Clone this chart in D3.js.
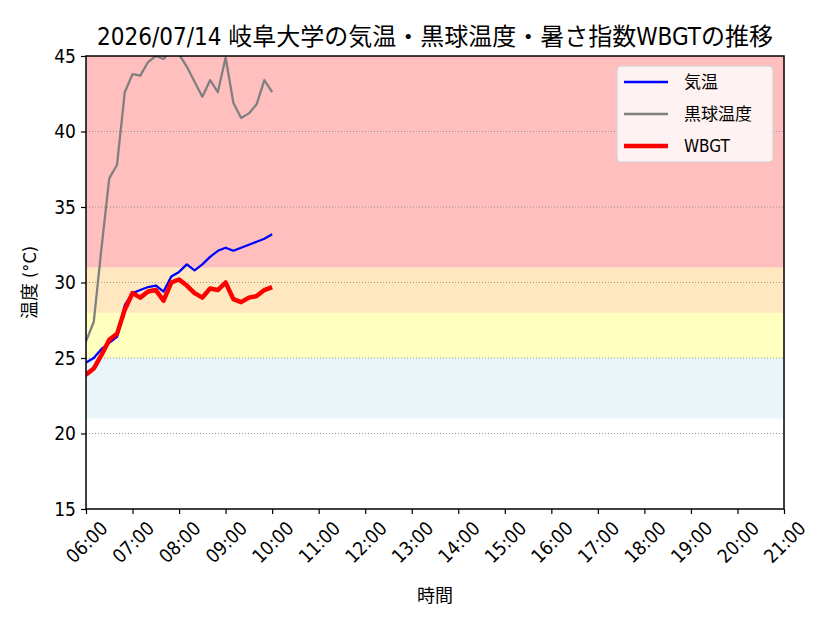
<!DOCTYPE html>
<html>
<head>
<meta charset="utf-8">
<title>WBGT chart</title>
<script src="https://d3js.org/d3.v7.min.js"></script>
<style>
  body { margin: 0; background: #fff; }
  text { font-family: "DejaVu Sans Condensed", "DejaVu Sans", "Noto Sans CJK JP", sans-serif; font-stretch: condensed; fill: #000; }
</style>
</head>
<body>
<div id="chart"></div>
<script>

  // 10分ごとの観測値 06:00 - 10:00
  const times = ["06:00", "06:10", "06:20", "06:30", "06:40", "06:50",
    "07:00", "07:10", "07:20", "07:30", "07:40", "07:50",
    "08:00", "08:10", "08:20", "08:30", "08:40", "08:50",
    "09:00", "09:10", "09:20", "09:30", "09:40", "09:50", "10:00"]
  const airTemp = [24.7, 25.0, 25.6, 26.0, 26.4, 28.5, 29.3, 29.5, 29.7, 29.8, 29.4, 30.4,
    30.7, 31.2, 30.8, 31.2, 31.7, 32.1, 32.3, 32.1, 32.3, 32.5, 32.7, 32.9, 33.2]
  const globeTemp = [26.1, 27.4, 32.3, 36.9, 37.8, 42.6, 43.8, 43.7, 44.6, 45.0, 44.8, 45.4,
    45.1, 44.3, 43.3, 42.3, 43.4, 42.6, 44.9, 41.9, 40.9, 41.2, 41.8, 43.4, 42.6]
  const wbgt = [23.9, 24.3, 25.2, 26.2, 26.6, 28.2, 29.3, 29.0, 29.4, 29.5, 28.8, 30.0,
    30.2, 29.8, 29.3, 29.0, 29.6, 29.5, 30.0, 28.9, 28.7, 29.0, 29.1, 29.5, 29.7]

  const xTickLabels = ["06:00", "07:00", "08:00", "09:00", "10:00", "11:00", "12:00", "13:00",
    "14:00", "15:00", "16:00", "17:00", "18:00", "19:00", "20:00", "21:00"]
  const yTicks = [15, 20, 25, 30, 35, 40, 45]

  // 危険度の帯 [下限, 上限, 色]
  const bandLow = [21, 25, 28, 31]
  const bandHigh = [25, 28, 31, 45]
  const bandColor = ["lightblue", "yellow", "orange", "red"]

  const seriesNames = ["気温", "黒球温度", "WBGT"]
  const seriesColor = ["#0000ff", "#808080", "#ff0000"]
  const seriesWidth = [2.3, 2.3, 4.5]

  const width = 832
  const height = 625
  const margin = { left: 86, right: 48, top: 56, bottom: 116 }

  const parse = d3.timeParse("%H:%M")

  let x = d3.scaleTime()
    .domain([parse("06:00"), parse("21:00")])
    .range([margin.left, width - margin.right])
  let y = d3.scaleLinear()
    .domain([15, 45])
    .range([height - margin.bottom, margin.top])

  let svg = d3.select("#chart")
    .append("svg")
    .attr("width", width)
    .attr("height", height)

  svg.append("defs").append("clipPath")
    .attr("id", "plotclip")
    .append("rect")
    .attr("x", margin.left)
    .attr("y", margin.top)
    .attr("width", x.range()[1] - x.range()[0])
    .attr("height", y.range()[0] - y.range()[1])

  //背景の帯
  svg.append("g")
    .selectAll("rect")
    .data(bandLow)
    .enter().append("rect")
    .attr("x", margin.left)
    .attr("width", x.range()[1] - x.range()[0])
    .attr("y", (d, i) => y(bandHigh[i]))
    .attr("height", (d, i) => y(d) - y(bandHigh[i]))
    .attr("fill", (d, i) => bandColor[i])
    .attr("fill-opacity", 0.25)

  //グリッド
  svg.append("g")
    .selectAll("line")
    .data(yTicks.slice(1, -1))
    .enter().append("line")
    .attr("x1", margin.left)
    .attr("x2", width - margin.right)
    .attr("y1", d => y(d))
    .attr("y2", d => y(d))
    .attr("stroke", "#808080")
    .attr("stroke-width", 0.8)
    .attr("stroke-dasharray", "1,2")

  //折れ線
  const allSeries = [airTemp, globeTemp, wbgt]
  const drawOrder = [1, 0, 2]
  let lines = svg.append("g").attr("clip-path", "url(#plotclip)")
  drawOrder.forEach(s => {
    const line = d3.line()
      .x((d, i) => x(parse(times[i])))
      .y(d => y(d))
    lines.append("path")
      .datum(allSeries[s])
      .attr("d", line)
      .attr("fill", "none")
      .attr("stroke", seriesColor[s])
      .attr("stroke-width", seriesWidth[s])
      .attr("stroke-linejoin", "round")
  })

  //枠
  svg.append("rect")
    .attr("x", margin.left)
    .attr("y", margin.top)
    .attr("width", x.range()[1] - x.range()[0])
    .attr("height", y.range()[0] - y.range()[1])
    .attr("fill", "none")
    .attr("stroke", "#000")
    .attr("stroke-width", 1.5)

  //軸
  let yAxis = svg.append("g")
    .attr("transform", `translate(${margin.left},0)`)
    .call(d3.axisLeft(y).tickValues(yTicks).tickSize(5).tickPadding(5))
  yAxis.select(".domain").remove()
  yAxis.selectAll("line").attr("stroke-width", 1.2)
  yAxis.selectAll("text").style("font-size", "19px")

  let xAxis = svg.append("g")
    .attr("transform", `translate(0,${height - margin.bottom})`)
    .call(d3.axisBottom(x).tickValues(xTickLabels.map(parse)).tickFormat(d3.timeFormat("%H:%M")).tickSize(5))
  xAxis.select(".domain").remove()
  xAxis.selectAll("line").attr("stroke-width", 1.2)
  xAxis.selectAll("text")
    .style("font-size", "19px")
    .attr("text-anchor", "middle")
    .attr("dy", null)
    .attr("dominant-baseline", "central")
    .attr("transform", "translate(0,33) rotate(-45)")
    .attr("y", 0)

  //タイトルとラベル
  svg.append("text")
    .attr("x", (margin.left + width - margin.right) / 2)
    .attr("y", 45)
    .attr("text-anchor", "middle")
    .style("font-size", "24px")
    .text("2026/07/14 岐阜大学の気温・黒球温度・暑さ指数WBGTの推移")

  svg.append("text")
    .attr("x", (margin.left + width - margin.right) / 2)
    .attr("y", 602)
    .attr("text-anchor", "middle")
    .style("font-size", "18px")
    .text("時間")

  svg.append("text")
    .attr("transform", `translate(36,${(margin.top + height - margin.bottom) / 2}) rotate(-90)`)
    .attr("text-anchor", "middle")
    .style("font-size", "18px")
    .text("温度 (°C)")

  //凡例
  let legend = svg.append("g").attr("transform", "translate(617,66)")
  legend.append("rect")
    .attr("width", 156)
    .attr("height", 96)
    .attr("rx", 4)
    .attr("fill", "#fff")
    .attr("fill-opacity", 0.8)
    .attr("stroke", "#d0d0d0")
  seriesNames.forEach((name, i) => {
    const ly = 16 + i * 32
    legend.append("line")
      .attr("x1", 7).attr("x2", 51)
      .attr("y1", ly).attr("y2", ly)
      .attr("stroke", seriesColor[i])
      .attr("stroke-width", seriesWidth[i])
    legend.append("text")
      .attr("x", 67)
      .attr("y", ly)
      .attr("dominant-baseline", "central")
      .style("font-size", "17px")
      .text(name)
  })

</script>
</body>
</html>
